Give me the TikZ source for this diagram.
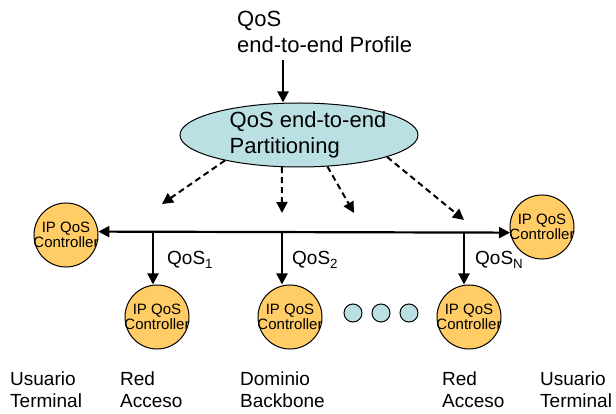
\documentclass[tikz,border=0pt]{standalone}
\usepackage{fontspec}
\setmainfont{Liberation Sans}
\usetikzlibrary{arrows.meta, shapes.geometric}
\definecolor{ctrlOrange}{HTML}{FFCC66}
\definecolor{partBlue}{HTML}{BBE0E3}
\tikzset{
  txtBig/.style={font=\fontsize{22}{26}\selectfont, align=left, inner sep=0pt},
  txtMid/.style={font=\fontsize{19}{22}\selectfont, align=left, inner sep=0pt},
  ctrlText/.style={font=\fontsize{15}{15.5}\selectfont, align=center, inner sep=0pt},
  % circulo de controlador (texto como label para no agrandar el circulo)
  ctrlNode/.style={circle, draw, line width=1pt, fill=ctrlOrange,
    minimum size=64pt, inner sep=0pt,
    label={[ctrlText]center:IP QoS\\Controller}},
  dotNode/.style={circle, draw, line width=1pt, fill=partBlue, minimum size=18pt, inner sep=0pt},
  solidArrow/.style={-{Triangle[length=11pt, width=11pt]}, line width=2pt},
  dashArrow/.style={-{Triangle[length=11pt, width=11pt]}, line width=2pt,
    dash pattern=on 6pt off 4pt}
}

\begin{document}
\begin{tikzpicture}[x=1pt, y=-1pt]
  \useasboundingbox (0,0) rectangle (616,414);

  %% --- PARTE 1: PERFIL Y PARTICIONADO ---
  \node[txtBig, anchor=north west] (prof) at (237,11) {QoS\\end-to-end Profile};
  \coordinate (pIn) at (283,60);

  \node[ellipse, draw, line width=1pt, fill=partBlue, minimum width=238pt,
    minimum height=64pt, inner sep=0pt,
    label={[txtBig, xshift=9pt]center:QoS end-to-end\\Partitioning}] (part) at (299,135) {};

  \draw[solidArrow] (pIn) -- (pIn |- part.north);

  %% --- PARTE 2: CONTROLADORES ---
  \node[ctrlNode] (ctlL) at (66,235) {};
  \node[ctrlNode] (ctlR) at (542,227) {};
  \node[ctrlNode] (ctl1) at (157,317) {};
  \node[ctrlNode] (ctl2) at (290,317) {};
  \node[ctrlNode] (ctl3) at (469,317) {};

  % puntos suspensivos
  \foreach \i/\x in {1/353, 2/381, 3/409}
    \node[dotNode] (dot\i) at (\x,313) {};

  % Bus horizontal
  \draw[{Triangle[length=11pt, width=11pt]}-{Triangle[length=11pt, width=11pt]}, line width=2.2pt]
    (ctlL.6) -- (ctlR.190);

  \coordinate (j1) at (153,232);
  \coordinate (j2) at (282,232);
  \coordinate (j3) at (464,232);
  \draw[solidArrow] (j1) -- (j1 |- ctl1.north);
  \draw[solidArrow] (j2) -- (j2 |- ctl2.north);
  \draw[solidArrow] (j3) -- (j3 |- ctl3.north);

  \node[txtMid, anchor=base west] (q1) at (167,265) {QoS\textsubscript{1}};
  \node[txtMid, anchor=base west] (q2) at (292,265) {QoS\textsubscript{2}};
  \node[txtMid, anchor=base west] (qN) at (475,265) {QoS\textsubscript{N}};

  % Flechas de reparto (tracejadas)
  \coordinate (d1) at (162,204);
  \coordinate (d2) at (282,213);
  \coordinate (d3) at (354,213);
  \coordinate (d4) at (464,220);
  \draw[dashArrow] (part.199) -- (d1);
  \draw[dashArrow] (part.242) -- (d2);
  \draw[dashArrow] (part.312) -- (d3);
  \draw[dashArrow] (part.346) -- (d4);

  %% --- PARTE 3: ETIQUETAS ---
  \node[txtMid, anchor=north west] (uL) at (10,371.5) {Usuario\\Terminal};
  \node[txtMid, anchor=north west] (rL) at (120,371.5) {Red\\Acceso};
  \node[txtMid, anchor=north west] (dB) at (240,371.5) {Dominio\\Backbone};
  \node[txtMid, anchor=north west] (rR) at (442,371.5) {Red\\Acceso};
  \node[txtMid, anchor=north west] (uR) at (540,371.5) {Usuario\\Terminal};
\end{tikzpicture}
\end{document}
